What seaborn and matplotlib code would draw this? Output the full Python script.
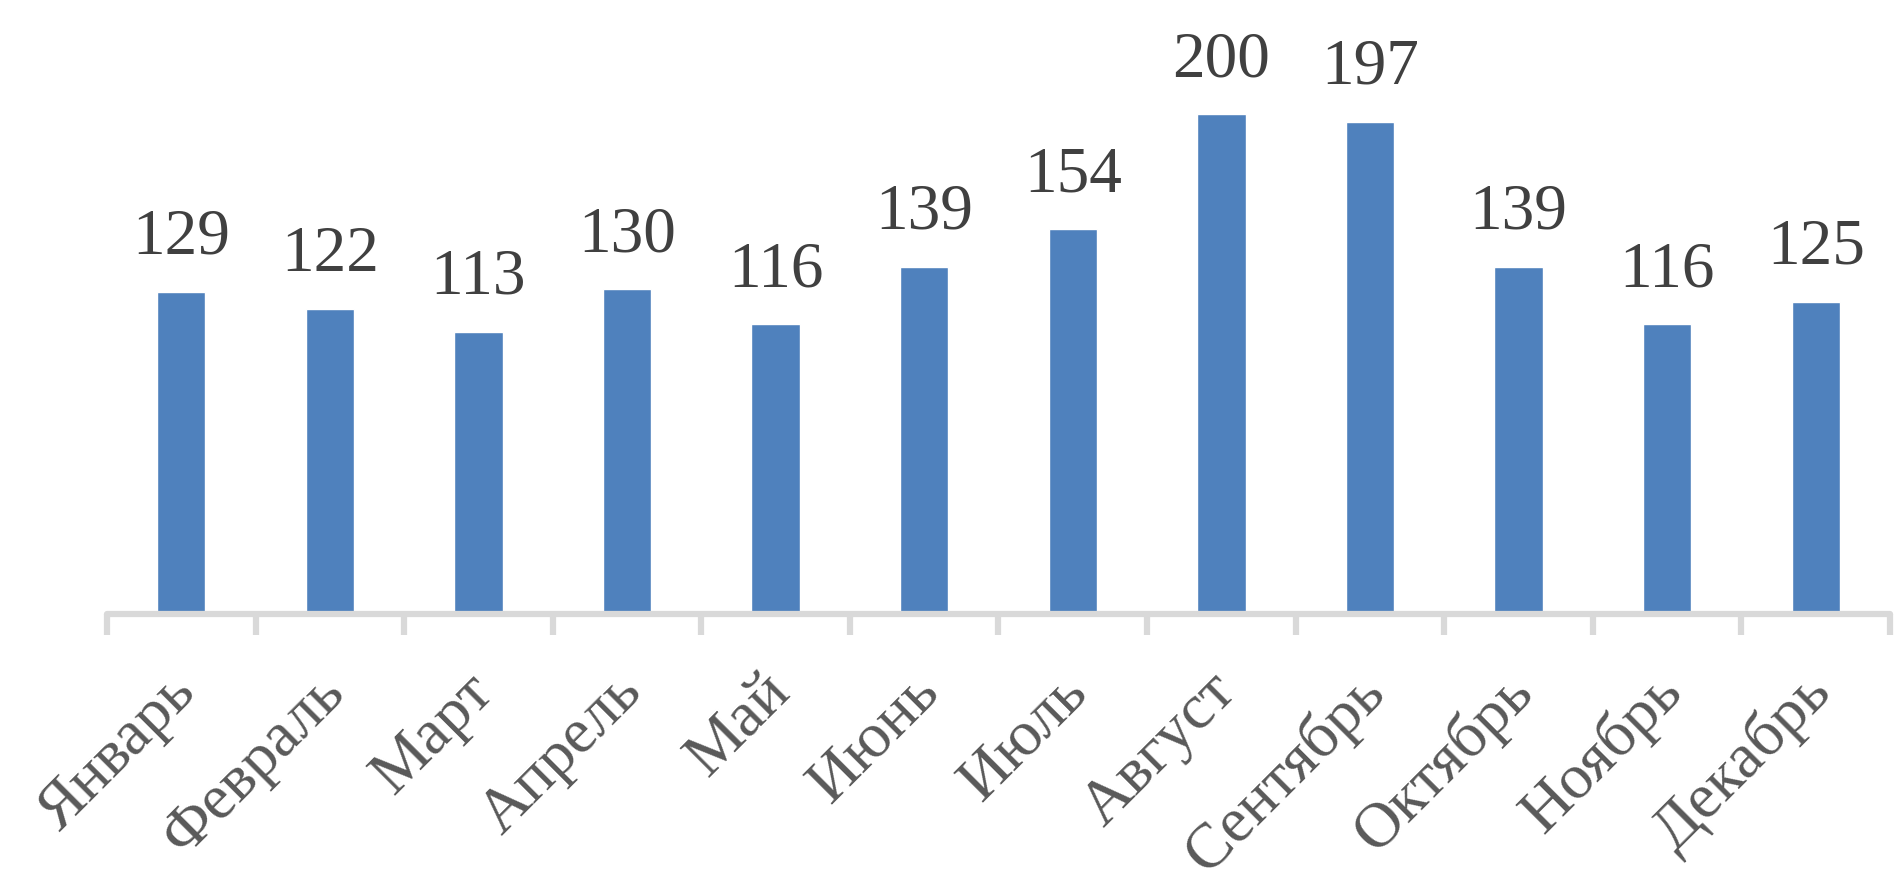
import numpy as np
import pandas as pd
import matplotlib
matplotlib.use("Agg")
import matplotlib.pyplot as plt
import matplotlib.transforms as mtransforms
import seaborn as sns

months = ["Январь", "Февраль", "Март", "Апрель", "Май", "Июнь",
          "Июль", "Август", "Сентябрь", "Октябрь", "Ноябрь", "Декабрь"]
values = [129, 122, 113, 130, 116, 139, 154, 200, 197, 139, 116, 125]

df = pd.DataFrame({"month": months, "value": values})

sns.set_style("white")
plt.rcParams['font.family'] = ['Liberation Serif', 'DejaVu Serif']

fig = plt.figure(figsize=(18.97, 8.73), dpi=100)
ax = fig.add_axes([107 / 1897, 1 - 614 / 873, 1783 / 1897, 614 / 873])

sns.barplot(data=df, x="month", y="value", color="#4F81BD", saturation=1,
            width=0.325, ax=ax)

for i, v in enumerate(values):
    ax.annotate(str(v), (i, v), xytext=(0, 17), textcoords="offset points",
                ha="center", va="bottom", fontsize=47, color="#404040")

ax.set_xlim(-0.5, len(months) - 0.5)
ax.set_ylim(0, 245.6)
ax.set_xlabel("")
ax.set_ylabel("")
ax.set_yticks([])

for s in ["top", "right", "left"]:
    ax.spines[s].set_visible(False)
ax.spines["bottom"].set_color("#D9D9D9")
ax.spines["bottom"].set_linewidth(4.5)
ax.spines["bottom"].set_capstyle("round")

ax.set_xticks(np.arange(len(months)))
ax.set_xticklabels(months, rotation=45, ha="right", va="center",
                   rotation_mode="anchor", fontsize=46, color="#595959")
ax.tick_params(axis="x", which="major", bottom=True, length=0, pad=50)
ax.set_xticks(np.arange(-0.5, len(months)), minor=True)
ax.tick_params(axis="x", which="minor", bottom=True, length=15, width=4.5,
               color="#D9D9D9", direction="out")

# nudge month labels slightly to the right
shift = mtransforms.ScaledTranslation(6 / 100, 0, fig.dpi_scale_trans)
for lbl in ax.get_xticklabels():
    lbl.set_transform(lbl.get_transform() + shift)

fig.savefig("out.png", dpi=100)
